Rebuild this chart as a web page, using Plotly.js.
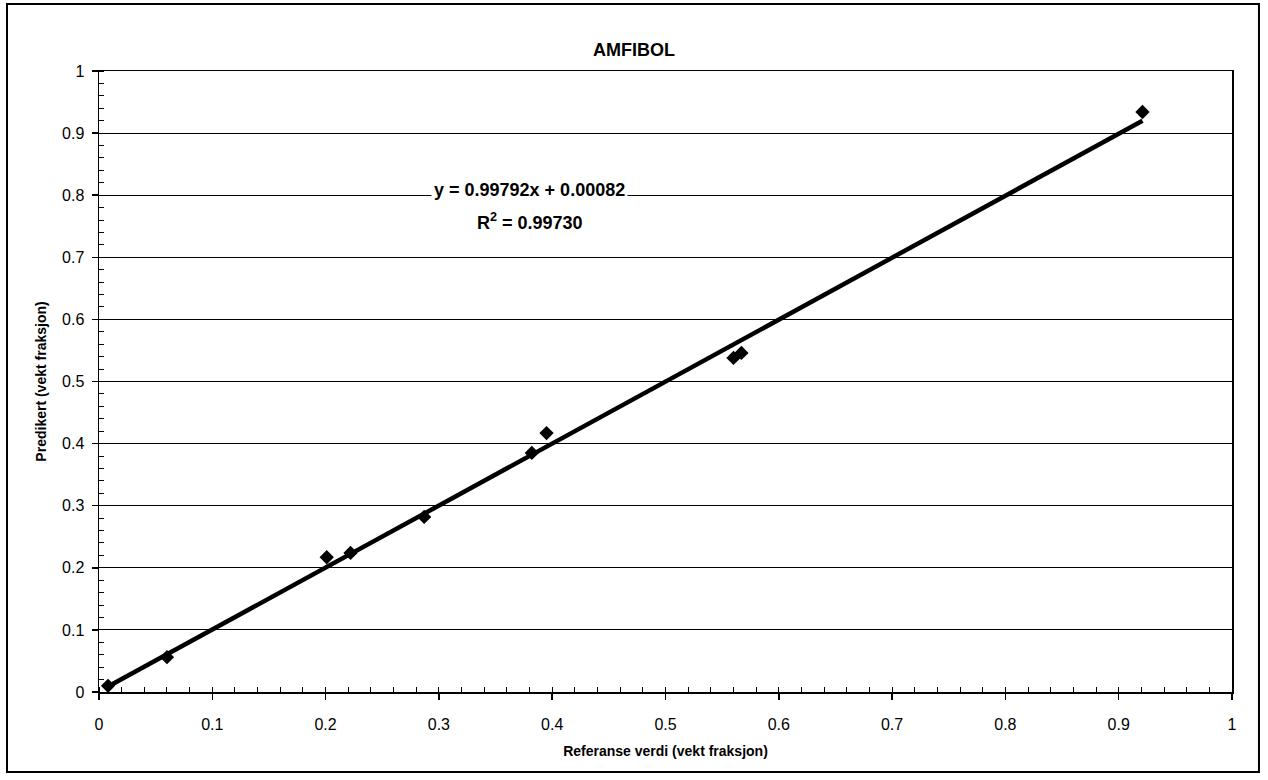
<!DOCTYPE html>
<html>
<head>
<meta charset="utf-8">
<script src="https://cdn.plot.ly/plotly-3.0.1.min.js"></script>
<style>
html,body{margin:0;padding:0;background:#fff;}
#chart{width:1268px;height:780px;}
</style>
</head>
<body>
<div id="chart"></div>
<script>
// Data
const referanse = [0.008, 0.060, 0.201, 0.222, 0.287, 0.382, 0.395, 0.560, 0.567, 0.921];
const predikert = [0.010, 0.056, 0.217, 0.224, 0.282, 0.385, 0.417, 0.538, 0.546, 0.934];
const slope = 0.99792;
const intercept = 0.00082;
const r2 = 0.99730;
const tickVals = [0, 0.1, 0.2, 0.3, 0.4, 0.5, 0.6, 0.7, 0.8, 0.9, 1];
const tickText = ['0', '0.1', '0.2', '0.3', '0.4', '0.5', '0.6', '0.7', '0.8', '0.9', '1'];

const xMin = Math.min(...referanse);
const xMax = Math.max(...referanse);
const trendX = [xMin, xMax];
const trendY = trendX.map(v => slope * v + intercept);

const font = 'Liberation Sans, Arial, sans-serif';

const traces = [
  {
    x: trendX, y: trendY, type: 'scatter', mode: 'lines',
    line: {color: '#000', width: 4.5}, hoverinfo: 'skip', showlegend: false
  },
  {
    x: referanse, y: predikert, type: 'scatter', mode: 'markers',
    marker: {symbol: 'diamond', size: 11, color: '#000'}, showlegend: false
  }
];

const axisCommon = {
  range: [0, 1],
  tickvals: tickVals,
  ticktext: tickText,
  ticks: 'outside',
  ticklen: 6,
  tickwidth: 1.5,
  tickcolor: '#000',
  showline: true,
  linecolor: '#000',
  linewidth: 1.5,
  mirror: true,
  zeroline: false,
  tickfont: {family: font, size: 16, color: '#000'},
  minor: {dtick: 0.02, ticks: 'inside', ticklen: 5, tickwidth: 1, tickcolor: '#000', showgrid: false},
  fixedrange: true
};

const layout = {
  width: 1268, height: 780,
  paper_bgcolor: '#fff', plot_bgcolor: '#fff',
  margin: {l: 99, r: 36, t: 71, b: 88},
  title: {
    text: '<b>AMFIBOL</b>',
    font: {family: font, size: 18, color: '#000'},
    x: 0.5, xanchor: 'center', y: 1 - 50 / 780, yanchor: 'middle'
  },
  xaxis: Object.assign({}, axisCommon, {
    showgrid: false,
    ticklabelstandoff: 11,
    title: {text: '<b>Referanse verdi (vekt fraksjon)</b>', font: {family: font, size: 14, color: '#000'}, standoff: 14}
  }),
  yaxis: Object.assign({}, axisCommon, {
    showgrid: true,
    gridcolor: '#000',
    gridwidth: 1,
    ticklabelstandoff: 4,
    title: {text: '<b>Predikert (vekt fraksjon)</b>', font: {family: font, size: 14, color: '#000'}, standoff: 12}
  }),
  annotations: [
    {
      xref: 'x', yref: 'y', x: 0.38, y: 0.808,
      text: '<b>y = ' + slope.toFixed(5) + 'x + ' + intercept.toFixed(5) + '</b>',
      showarrow: false, align: 'center',
      font: {family: font, size: 18, color: '#000'},
      bgcolor: '#fff', borderpad: 2
    },
    {
      xref: 'x', yref: 'y', x: 0.38, y: 0.757,
      text: '<b>R<sup>2</sup> = ' + r2.toFixed(5) + '</b>',
      showarrow: false, align: 'center',
      font: {family: font, size: 18, color: '#000'},
      bgcolor: 'rgba(0,0,0,0)', borderpad: 1
    }
  ],
  shapes: [
    {
      type: 'rect', xref: 'paper', yref: 'paper',
      x0: -0.0812, x1: 1.0238, y0: -0.1288, y1: 1.108,
      line: {color: '#000', width: 2}, fillcolor: 'rgba(0,0,0,0)', layer: 'below'
    }
  ],
  showlegend: false
};

Plotly.newPlot('chart', traces, layout, {displayModeBar: false, staticPlot: true});
</script>
</body>
</html>
